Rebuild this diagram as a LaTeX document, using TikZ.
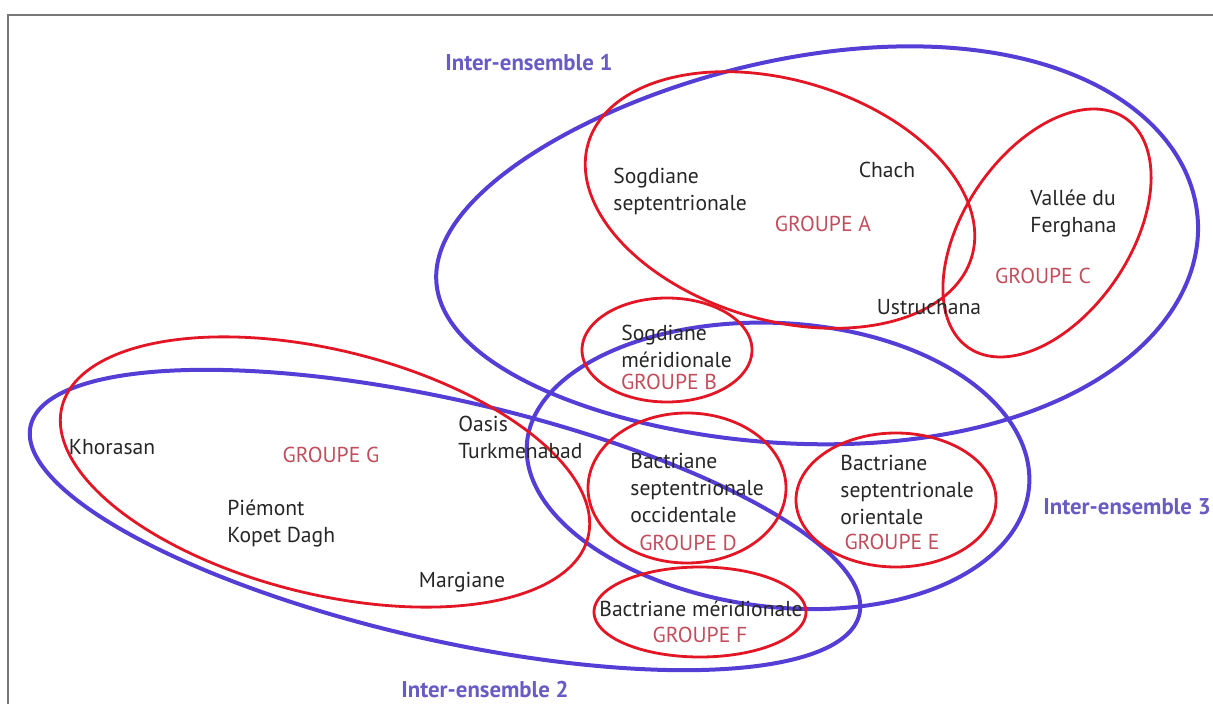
\documentclass[tikz,border=0pt]{standalone}
\usepackage{fontspec}
\setmainfont{PT Sans}
\definecolor{ensblue}{RGB}{84,62,214}
\definecolor{enslabel}{RGB}{104,92,196}
\definecolor{grpred}{RGB}{226,22,36}
\definecolor{grplabel}{RGB}{192,78,92}
\definecolor{framegray}{RGB}{120,120,120}
\tikzset{
  ens/.style={draw=ensblue,line width=2pt},
  grp/.style={draw=grpred,line width=1.4pt},
  place/.style={inner sep=0pt,text=black!85,font=\fontsize{10.8}{13.5}\selectfont,align=left},
  glabel/.style={inner sep=0pt,text=grplabel,font=\fontsize{10.8}{13.5}\selectfont},
  elabel/.style={inner sep=0pt,text=enslabel,font=\bfseries\fontsize{11.4}{13.5}\selectfont},
}
% egg-shaped ellipse in screen coordinates:
% #1 style, #2 cx, #3 cy, #4 a, #5 b, #6 angle (clockwise on screen), #7 egg factor
\newcommand{\eggloop}[7]{%
  \draw[#1] plot[domain=0:358,samples=180,smooth cycle,variable=\t]
  ({#2+(#4)*cos(\t)*cos(#6)-(#5)*sin(\t)*(1+(#7)*cos(\t))*sin(#6)},
   {#3+(#4)*cos(\t)*sin(#6)+(#5)*sin(\t)*(1+(#7)*cos(\t))*cos(#6)});}
\begin{document}
\begin{tikzpicture}[x=0.5pt,y=-0.5pt]
\useasboundingbox (0,0) rectangle (1213,704);
% frame
\draw[framegray,line width=0.8pt] (8,704) -- (8,15) -- (1213,15);

% Inter-ensembles (blue)
\eggloop{ens}{817}{250}{382}{195}{-5}{0.15}
\eggloop{ens}{778}{465}{252}{142}{5}{0.04}
\eggloop{ens}{445}{520}{425}{120}{12.8}{0}

% Groupes (red)
\eggloop{grp}{780}{200}{200}{120}{16.5}{0}
\eggloop{grp}{1047}{233}{139}{83}{-55.7}{0}
\eggloop{grp}{325}{472}{271}{122}{13.9}{0}
\eggloop{grp}{667}{350}{85}{52}{0}{0}
\eggloop{grp}{687}{488}{99}{75}{0}{0}
\eggloop{grp}{896}{500}{100}{67}{0}{0}
\eggloop{grp}{700}{612}{106}{45}{0}{0}

% labels of the ensembles
\node[elabel] (e1) at (529,63) {Inter-ensemble 1};
\node[elabel] (e2) at (485,690) {Inter-ensemble 2};
\node[elabel] (e3) at (1127,507) {Inter-ensemble 3};

% places
\node[place,anchor=west] (sogs) at (613,191) {Sogdiane\\septentrionale};
\node[place] (chach) at (887,170) {Chach};
\node[place,anchor=west] (ferg) at (1030,214) {Vallée du\\Ferghana};
\node[place] (ustr) at (929,307) {Ustruchana};
\node[place,anchor=west] (sogm) at (621,346) {Sogdiane\\méridionale};
\node[place] (khor) at (112,447) {Khorasan};
\node[place,anchor=west] (oasis) at (458,437) {Oasis\\Turkmenabad};
\node[place,anchor=west] (piem) at (227,524) {Piémont\\Kopet Dagh};
\node[place] (marg) at (462,582) {Margiane};
\node[place,anchor=west] (bso) at (630,488) {Bactriane\\septentrionale\\occidentale};
\node[place,anchor=west] (bse) at (840,490) {Bactriane\\septentrionale\\orientale};
\node[place] (bm) at (701,609) {Bactriane méridionale};

% groups
\node[glabel] (ga) at (823,224) {GROUPE A};
\node[glabel] (gb) at (669,382) {GROUPE B};
\node[glabel] (gc) at (1043,276) {GROUPE C};
\node[glabel] (gd) at (688,543) {GROUPE D};
\node[glabel] (ge) at (892,542) {GROUPE E};
\node[glabel] (gf) at (700,635) {GROUPE F};
\node[glabel] (gg) at (331,455) {GROUPE G};
\end{tikzpicture}
\end{document}
